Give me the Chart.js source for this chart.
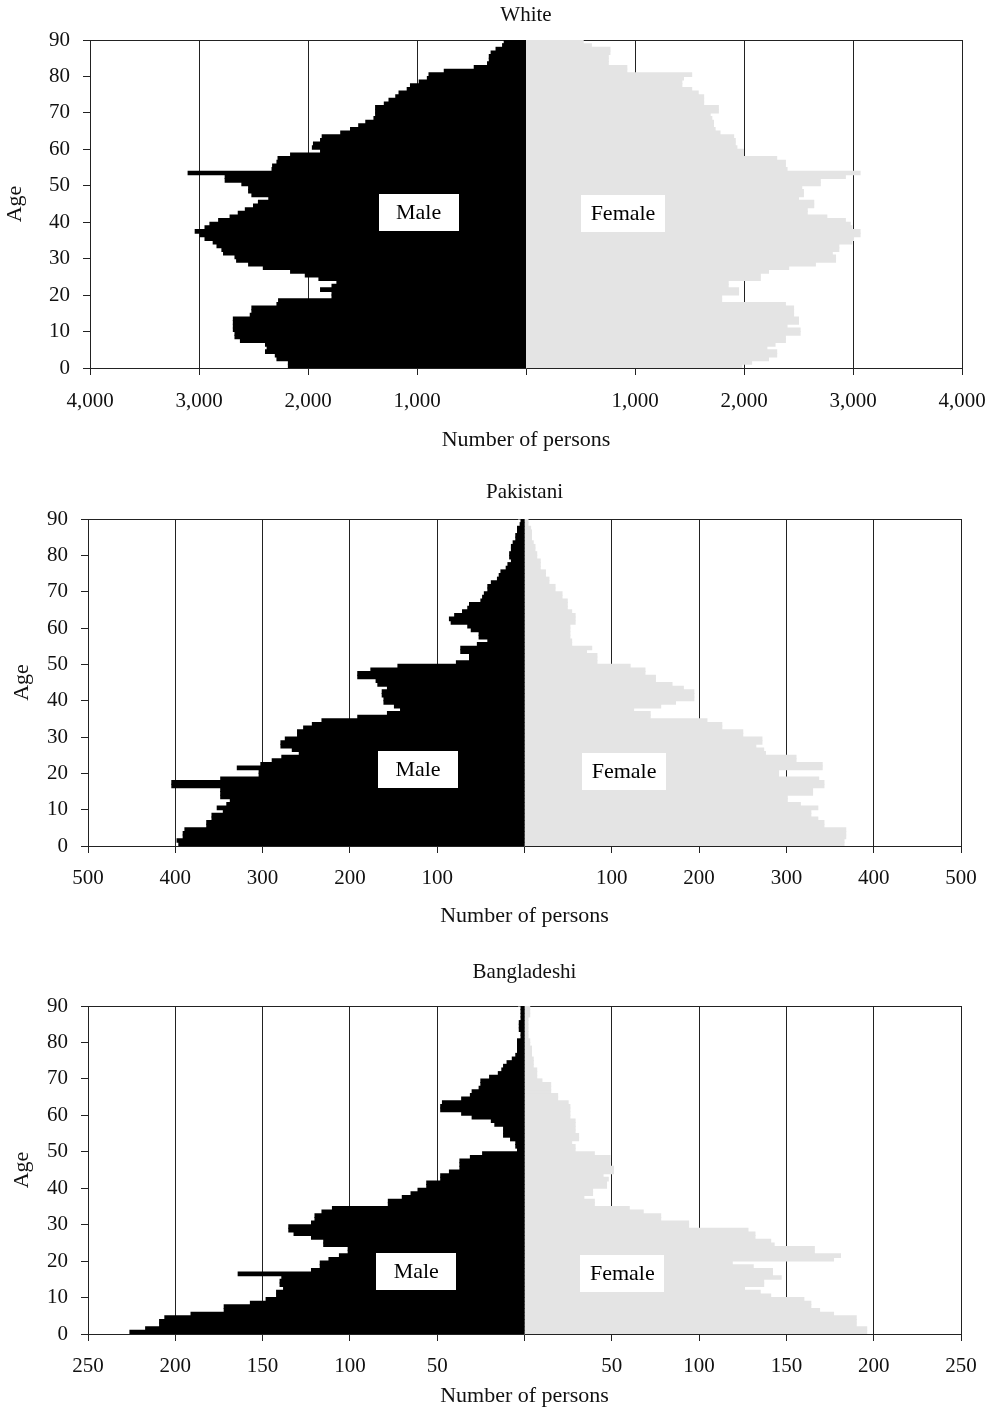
<!DOCTYPE html>
<html><head><meta charset="utf-8">
<script src="https://cdn.jsdelivr.net/npm/chart.js@4.4.1/dist/chart.umd.min.js"></script>
<style>
html,body{margin:0;padding:0;background:#fff;}
body{width:993px;height:1411px;position:relative;overflow:hidden;}
.panel{position:absolute;left:0;width:993px;}
</style></head><body>
<div class="panel" style="top:0px;height:470px"><canvas id="c1" width="993" height="470"></canvas></div>
<div class="panel" style="top:470px;height:470px"><canvas id="c2" width="993" height="470"></canvas></div>
<div class="panel" style="top:940px;height:471px"><canvas id="c3" width="993" height="471"></canvas></div>
<script>
// ---- DATA (ages 0..89) ----
const ages = [0,1,2,3,4,5,6,7,8,9,10,11,12,13,14,15,16,17,18,19,20,21,22,23,24,25,26,27,28,29,30,31,32,33,34,35,36,37,38,39,40,41,42,43,44,45,46,47,48,49,50,51,52,53,54,55,56,57,58,59,60,61,62,63,64,65,66,67,68,69,70,71,72,73,74,75,76,77,78,79,80,81,82,83,84,85,86,87,88,89];

const whiteMale = [2180,2180,2285,2300,2390,2375,2390,2620,2670,2670,2685,2685,2685,2685,2530,2515,2515,2285,2270,1780,1780,1885,1780,1735,1900,2025,2160,2410,2545,2655,2670,2775,2790,2835,2870,2945,2990,3035,2945,2900,2820,2715,2640,2575,2500,2455,2360,2515,2545,2545,2607,2760,2760,3100,2330,2325,2285,2275,2160,1885,1960,1950,1885,1870,1700,1610,1535,1470,1395,1380,1380,1380,1300,1257,1195,1165,1090,1060,980,905,890,750,475,353,337,337,320,275,215,200];
const whiteFemale = [1980,2070,2225,2300,2300,2210,2285,2380,2380,2515,2515,2395,2500,2500,2455,2455,2455,2380,1795,1795,1950,1950,1855,1855,2150,2150,2225,2410,2655,2840,2840,2810,2870,2870,2990,3005,3065,3065,2990,2975,2930,2760,2580,2580,2640,2640,2500,2545,2545,2530,2700,2700,2930,3065,2395,2380,2380,2300,1995,1995,1935,1920,1920,1905,1780,1735,1720,1720,1705,1690,1765,1765,1630,1630,1630,1580,1520,1430,1430,1445,1520,925,925,755,755,755,770,770,600,525];

const pakMale = [396,398,391,391,389,364,364,358,358,345,352,341,337,348,348,348,404,404,348,304,304,329,302,289,278,258,266,279,279,274,260,260,253,243,232,191,157,142,149,161,161,163,163,157,168,170,191,191,176,145,78,63,63,73,73,54,42,52,52,61,65,84,86,80,71,65,63,50,48,46,42,42,38,31,29,27,21,19,15,17,17,15,15,13,10,10,8,8,5,4];
const pakFemale = [366,366,368,368,368,343,343,336,328,328,336,316,301,301,330,330,343,343,337,291,291,341,341,311,311,276,274,265,272,272,250,250,226,226,209,144,144,125,156,173,194,194,194,182,169,150,150,138,138,121,83,83,83,71,77,54,54,52,52,52,52,58,58,58,54,49,49,49,43,43,35,35,28,28,24,24,18,18,18,14,14,12,12,10,8,8,8,7,4,4];

const bangMale = [226,217,209,209,206,191,172,172,157,148,142,142,138,140,140,139,164,122,117,117,112,106,101,101,115,115,122,132,135,135,122,120,120,116,110,78,78,70,65,61,56,56,48,48,43,37,37,37,31,24,4,5,5,8,12,12,12,17,19,30,36,48,48,47,36,31,30,26,25,25,20,15,13,12,10,7,5,4,4,4,4,2,2,3,3,3,2,2,2,2];
const bangFemale = [196,196,190,190,190,177,169,164,164,160,141,135,126,137,137,147,142,142,131,119,177,181,166,166,143,141,132,132,128,94,94,78,78,68,60,40,40,34,39,39,47,47,48,45,51,51,49,49,49,40,29,29,27,31,31,29,29,29,29,26,26,26,26,25,19,19,15,15,15,10,7,7,7,5,5,5,4,4,4,3,3,2,2,2,2,2,2,3,3,3];

const panelTitles = ['White','Pakistani','Bangladeshi'];
const axisMax = [4000, 500, 250];
const axisStep = [1000, 100, 50];
const ageTicks = [0,10,20,30,40,50,60,70,80,90];

// ---- LAYOUT ----
const FONT = "'Liberation Serif','Times New Roman',serif";
Chart.defaults.font.family = FONT;
Chart.defaults.color = '#111';

const layouts = [
  {canvasTop:0,   H:470, plotTop:40,   plotBottom:368,  plotLeft:90, plotRight:962, titleY:15,  tickY:401,  axisTitleY:440,  ageX:15,
   labels:[{text:'Male',x:-985,y:42.7,w:80},{text:'Female',x:890,y:42.5,w:84}]},
  {canvasTop:470, H:470, plotTop:519,  plotBottom:846,  plotLeft:88, plotRight:961, titleY:492, tickY:878,  axisTitleY:916,  ageX:22,
   labels:[{text:'Male',x:-122,y:21,w:80},{text:'Female',x:114,y:20.5,w:84}]},
  {canvasTop:940, H:471, plotTop:1006, plotBottom:1334, plotLeft:88, plotRight:961, titleY:972, tickY:1366, axisTitleY:1396, ageX:22,
   labels:[{text:'Male',x:-62,y:17.1,w:80},{text:'Female',x:56,y:16.6,w:84}]}
];

const sexLabels = {
  id:'sexLabels',
  afterDatasetsDraw(chart, args, opts){
    const {ctx} = chart; const x = chart.scales.x, y = chart.scales.y;
    (opts.items||[]).forEach(it=>{
      const cx = x.getPixelForValue(it.x), cy = y.getPixelForValue(it.y);
      ctx.save();
      ctx.fillStyle = '#fff';
      ctx.fillRect(Math.round(cx - it.w/2), Math.round(cy - 18.5), it.w, 37);
      ctx.fillStyle = '#000';
      ctx.font = '22px ' + FONT;
      ctx.textAlign = 'center'; ctx.textBaseline = 'middle';
      ctx.fillText(it.text, cx, cy + 1);
      ctx.restore();
    });
  }
};

function fmt(v){ return v.toLocaleString('en-US'); }

function makeChart(id, idx, male, female){
  const L = layouts[idx];
  const tfs = 21, lh = tfs*1.2;
  const afs = 22, alh = afs*1.2;
  const kfs = 21, klh = kfs*1.2;
  const titleTop = (L.titleY - L.canvasTop) - lh/2;
  const titleBottom = (L.plotTop - L.canvasTop) - lh - titleTop;
  const xH = (L.canvasTop + L.H) - L.plotBottom;
  const tickPad = L.tickY - L.plotBottom - 7 - klh/2;
  const xtPad = (L.canvasTop + L.H) - L.axisTitleY - alh/2;
  const ytPad = L.ageX - alh/2;
  const maleData = ages.map((a,i)=>({x:-male[i], y:a+0.5}));
  const femaleData = ages.map((a,i)=>({x:female[i], y:a+0.5}));
  const common = {grouped:false, barPercentage:1, categoryPercentage:1, borderWidth:0, inflateAmount:0.5};
  return new Chart(document.getElementById(id), {
    type:'bar',
    data:{datasets:[
      Object.assign({label:'Male', data:maleData, backgroundColor:'#000000'}, common),
      Object.assign({label:'Female', data:femaleData, backgroundColor:'#e4e4e4'}, common)
    ]},
    plugins:[sexLabels],
    options:{
      indexAxis:'y', responsive:false, animation:false, devicePixelRatio:1,
      layout:{padding:{left:0, right:993 - L.plotRight, top:0, bottom:0}},
      plugins:{
        legend:{display:false}, tooltip:{enabled:false},
        title:{display:true, text:panelTitles[idx], fullSize:false, color:'#111',
               font:{size:tfs, weight:'normal'}, padding:{top:titleTop, bottom:titleBottom}},
        sexLabels:{items:L.labels}
      },
      scales:{
        x:{type:'linear', min:-axisMax[idx], max:axisMax[idx], offset:false,
           ticks:{stepSize:axisStep[idx], autoSkip:false, maxRotation:0, color:'#111', font:{size:kfs}, padding:tickPad,
                  callback:v => v===0 ? '' : fmt(Math.abs(v))},
           grid:{color:'#222', lineWidth:1, tickLength:7, tickColor:'#222', offset:false},
           border:{color:'#222', width:1},
           title:{display:true, text:'Number of persons', color:'#111', font:{size:afs}, padding:{top:0,bottom:xtPad}},
           afterFit:s=>{ s.height = xH; s.paddingLeft = 0; s.paddingRight = 0; }},
        y:{type:'linear', position:'left', min:0, max:90, offset:false,
           afterBuildTicks:s=>{ s.ticks = ageTicks.map(v=>({value:v})); },
           ticks:{color:'#111', font:{size:kfs}, padding:13},
           grid:{offset:false, color:c => (c.tick && c.tick.value===90) ? '#222' : 'rgba(0,0,0,0)', tickColor:'#222', tickLength:7, lineWidth:1},
           border:{color:'#222', width:1},
           title:{display:true, text:'Age', color:'#111', font:{size:afs}, padding:{top:ytPad,bottom:0}},
           afterFit:s=>{ s.width = L.plotLeft; s.paddingTop = 0; s.paddingBottom = 0; }},
        yc:{type:'linear', position:{x:0}, min:0, max:90, offset:false,
           afterBuildTicks:s=>{ s.ticks = ageTicks.map(v=>({value:v})); },
           ticks:{display:false},
           grid:{offset:false, drawOnChartArea:false, tickLength:6, tickColor:'#8a8a8a'},
           border:{color:'#555', width:1}}
      }
    }
  });
}

makeChart('c1', 0, whiteMale, whiteFemale);
makeChart('c2', 1, pakMale, pakFemale);
makeChart('c3', 2, bangMale, bangFemale);
</script>
</body></html>
